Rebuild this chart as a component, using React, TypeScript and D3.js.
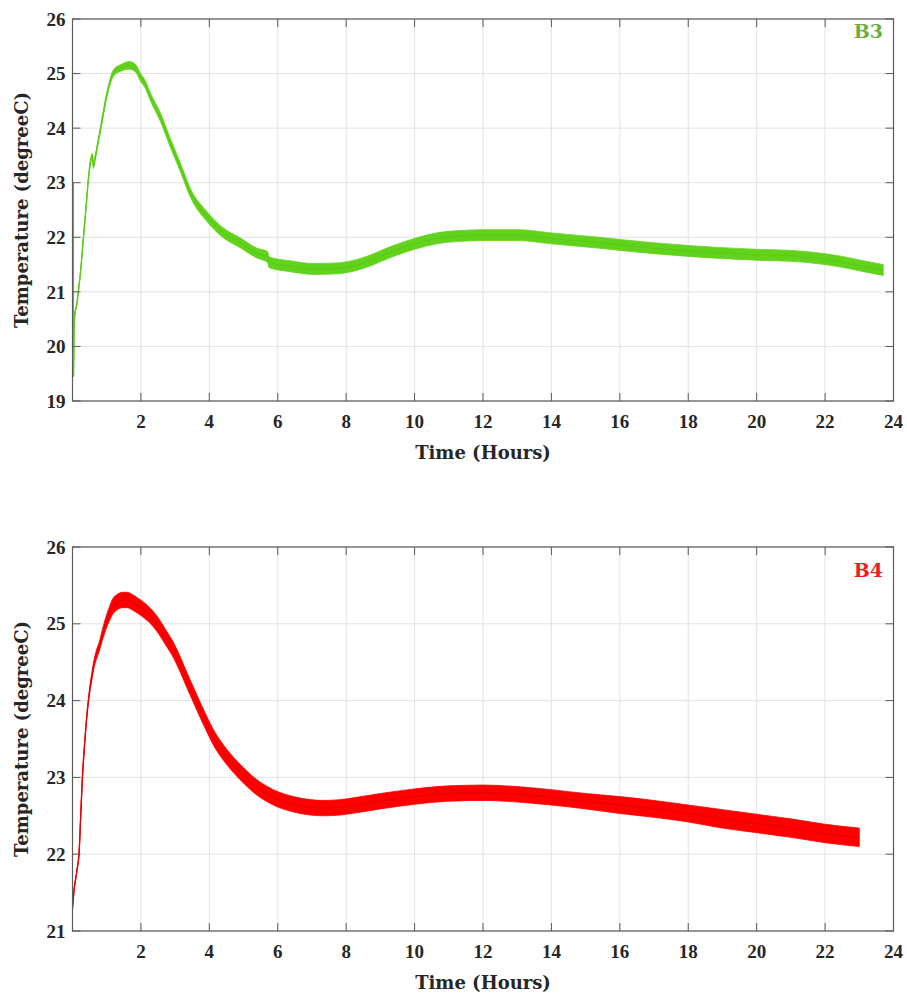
import React from "react";
import * as d3 from "d3";

// ---------- data ----------
const xTicks = [2, 4, 6, 8, 10, 12, 14, 16, 18, 20, 22, 24];
const b3YTicks = [19, 20, 21, 22, 23, 24, 25, 26];
const b4YTicks = [21, 22, 23, 24, 25, 26];

const b3Time = [0.025, 0.03, 0.045, 0.07, 0.12, 0.17, 0.24, 0.32, 0.39, 0.47, 0.53, 0.58, 0.61, 0.66, 0.75, 0.88, 1.0, 1.07, 1.15, 1.22, 1.4, 1.66, 1.84, 1.99, 2.13, 2.28, 2.57, 2.86, 3.15, 3.45, 3.93, 4.41, 4.9, 5.39, 5.7, 5.75, 6.36, 7.04, 7.74, 8.0, 8.6, 9.3, 10, 10.74, 11.5, 12, 13, 14, 15.4, 16, 17, 18, 19, 20, 21, 22, 22.5, 23.2, 23.7];
const b3Temp = [23.0, 19.45, 20.3, 20.6, 20.75, 21.0, 21.4, 22.0, 22.5, 23.1, 23.4, 23.5, 23.3, 23.45, 23.75, 24.2, 24.6, 24.78, 24.95, 25.03, 25.1, 25.15, 25.1, 24.93, 24.8, 24.57, 24.2, 23.73, 23.29, 22.81, 22.38, 22.08, 21.9, 21.71, 21.64, 21.54, 21.47, 21.42, 21.43, 21.45, 21.55, 21.73, 21.88, 21.99, 22.03, 22.04, 22.04, 21.98, 21.9, 21.86, 21.8, 21.75, 21.71, 21.68, 21.66, 21.6, 21.55, 21.46, 21.4];
const b3Spread = [0.0, 0.0, 0.01, 0.01, 0.01, 0.01, 0.01, 0.01, 0.01, 0.02, 0.04, 0.04, 0.04, 0.04, 0.04, 0.05, 0.05, 0.05, 0.06, 0.06, 0.06, 0.07, 0.07, 0.07, 0.07, 0.07, 0.08, 0.08, 0.08, 0.08, 0.09, 0.09, 0.09, 0.09, 0.1, 0.1, 0.1, 0.1, 0.1, 0.1, 0.1, 0.1, 0.1, 0.1, 0.1, 0.1, 0.1, 0.1, 0.1, 0.1, 0.1, 0.1, 0.1, 0.1, 0.1, 0.1, 0.1, 0.1, 0.1];

const b4Time = [0.0, 0.05, 0.1, 0.15, 0.19, 0.24, 0.29, 0.34, 0.39, 0.49, 0.56, 0.63, 0.7, 0.78, 0.87, 0.97, 1.07, 1.17, 1.3, 1.46, 1.6, 1.75, 1.99, 2.24, 2.47, 2.7, 2.96, 3.15, 3.35, 3.55, 3.74, 3.93, 4.12, 4.32, 4.52, 4.9, 5.39, 5.87, 6.56, 7.33, 7.82, 8.3, 9, 10, 11, 12, 13, 14, 15, 16, 17, 18, 19, 20, 21, 22, 23];
const b4Temp = [21.3, 21.55, 21.7, 21.85, 22.0, 22.5, 23.0, 23.35, 23.65, 24.09, 24.3, 24.48, 24.6, 24.7, 24.85, 25.0, 25.12, 25.22, 25.28, 25.31, 25.31, 25.28, 25.21, 25.12, 25.0, 24.84, 24.65, 24.47, 24.26, 24.06, 23.87, 23.69, 23.52, 23.38, 23.26, 23.07, 22.87, 22.74, 22.64, 22.6, 22.61, 22.64, 22.69, 22.75, 22.79, 22.8, 22.78, 22.74, 22.69, 22.64, 22.59, 22.53, 22.46, 22.4, 22.34, 22.27, 22.22];
const b4Spread = [0.0, 0.01, 0.01, 0.01, 0.01, 0.01, 0.01, 0.01, 0.015, 0.03, 0.05, 0.05, 0.06, 0.06, 0.07, 0.08, 0.09, 0.1, 0.1, 0.1, 0.1, 0.1, 0.1, 0.1, 0.1, 0.1, 0.1, 0.1, 0.1, 0.1, 0.1, 0.1, 0.1, 0.1, 0.1, 0.1, 0.1, 0.1, 0.1, 0.1, 0.1, 0.1, 0.1, 0.1, 0.1, 0.1, 0.1, 0.1, 0.1, 0.11, 0.11, 0.11, 0.12, 0.12, 0.12, 0.12, 0.12];

// ---------- styling ----------
const W = 907;
const H = 997;
const LEFT = 72.5;
const RIGHT = 893.5;
const AXIS_COLOR = "#5a5a5a";
const GRID_COLOR = "#e3e3e3";
const TICK_FONT = "'Liberation Serif', 'Times New Roman', serif";
const TITLE_FONT = "'DejaVu Serif', serif";

type PanelProps = {
  id: string;
  time: number[];
  temp: number[];
  spread: number[];
  yTicks: number[];
  top: number;
  bottom: number;
  color: string;
  lineColor: string;
  label: string;
  labelColor: string;
  labelY: number;
};

function Panel(p: PanelProps) {
  const x = d3.scaleLinear().domain([0, 24]).range([LEFT, RIGHT]);
  const y = d3
    .scaleLinear()
    .domain([p.yTicks[0], p.yTicks[p.yTicks.length - 1]])
    .range([p.bottom, p.top]);
  const idx = d3.range(p.time.length);
  const area = d3
    .area<number>()
    .x((i) => x(p.time[i]))
    .y0((i) => y(p.temp[i] - p.spread[i]))
    .y1((i) => y(p.temp[i] + p.spread[i]))
    .curve(d3.curveMonotoneX);
  const line = d3
    .line<number>()
    .x((i) => x(p.time[i]))
    .y((i) => y(p.temp[i]))
    .curve(d3.curveMonotoneX);
  const tickLen = 8;
  const clipId = `clip-${p.id}`;
  return (
    <g>
      <defs>
        <clipPath id={clipId}>
          <rect x={LEFT} y={p.top} width={RIGHT - LEFT} height={p.bottom - p.top} />
        </clipPath>
      </defs>
      {/* grid */}
      {xTicks.map((t) => (
        <line key={`gx${t}`} x1={x(t)} x2={x(t)} y1={p.top} y2={p.bottom} stroke={GRID_COLOR} strokeWidth={1} />
      ))}
      {p.yTicks.map((t) => (
        <line key={`gy${t}`} x1={LEFT} x2={RIGHT} y1={y(t)} y2={y(t)} stroke={GRID_COLOR} strokeWidth={1} />
      ))}
      {/* data */}
      <g clipPath={`url(#${clipId})`}>
        <path d={area(idx) || ""} fill={p.color} stroke={p.color} strokeWidth={0.8} />
        <path d={line(idx) || ""} fill="none" stroke={p.lineColor} strokeWidth={1.4} />
      </g>
      {/* frame */}
      <rect x={LEFT} y={p.top} width={RIGHT - LEFT} height={p.bottom - p.top} fill="none" stroke={AXIS_COLOR} strokeWidth={1.2} />
      {/* ticks */}
      {xTicks.map((t) => (
        <g key={`tx${t}`}>
          <line x1={x(t)} x2={x(t)} y1={p.bottom} y2={p.bottom - tickLen} stroke={AXIS_COLOR} strokeWidth={1} />
          <line x1={x(t)} x2={x(t)} y1={p.top} y2={p.top + tickLen} stroke={AXIS_COLOR} strokeWidth={1} />
          <text x={x(t)} y={p.bottom + 27} textAnchor="middle" fontFamily={TICK_FONT} fontWeight="bold" fontSize={19} fill="#262626">
            {t}
          </text>
        </g>
      ))}
      {p.yTicks.map((t) => (
        <g key={`ty${t}`}>
          <line x1={LEFT} x2={LEFT + tickLen} y1={y(t)} y2={y(t)} stroke={AXIS_COLOR} strokeWidth={1} />
          <line x1={RIGHT} x2={RIGHT - tickLen} y1={y(t)} y2={y(t)} stroke={AXIS_COLOR} strokeWidth={1} />
          <text x={LEFT - 7} y={y(t)} dy="0.35em" textAnchor="end" fontFamily={TICK_FONT} fontWeight="bold" fontSize={19} fill="#262626">
            {t}
          </text>
        </g>
      ))}
      {/* titles */}
      <text x={(LEFT + RIGHT) / 2} y={p.bottom + 58} textAnchor="middle" fontFamily={TITLE_FONT} fontWeight="bold" fontSize={18} fill="#262626">
        Time (Hours)
      </text>
      <text
        transform={`translate(28, ${(p.top + p.bottom) / 2}) rotate(-90)`}
        textAnchor="middle"
        fontFamily={TITLE_FONT}
        fontWeight="bold"
        fontSize={18}
        fill="#262626"
      >
        Temperature (degreeC)
      </text>
      <text x={883} y={p.labelY} textAnchor="end" fontFamily={TITLE_FONT} fontWeight="bold" fontSize={19} fill={p.labelColor}>
        {p.label}
      </text>
    </g>
  );
}

export default function App() {
  return (
    <svg width={W} height={H} style={{ position: "absolute", left: 0, top: 0, background: "#fff" }}>
      <rect width={W} height={H} fill="#fff" />
      <Panel
        id="b3"
        time={b3Time}
        temp={b3Temp}
        spread={b3Spread}
        yTicks={b3YTicks}
        top={19}
        bottom={401}
        color="#62d31c"
        lineColor="#5ccc18"
        label="B3"
        labelColor="#6fae3c"
        labelY={38}
      />
      <Panel
        id="b4"
        time={b4Time}
        temp={b4Temp}
        spread={b4Spread}
        yTicks={b4YTicks}
        top={547}
        bottom={931}
        color="#ff0000"
        lineColor="#e80000"
        label="B4"
        labelColor="#ee1c1c"
        labelY={577}
      />
    </svg>
  );
}
